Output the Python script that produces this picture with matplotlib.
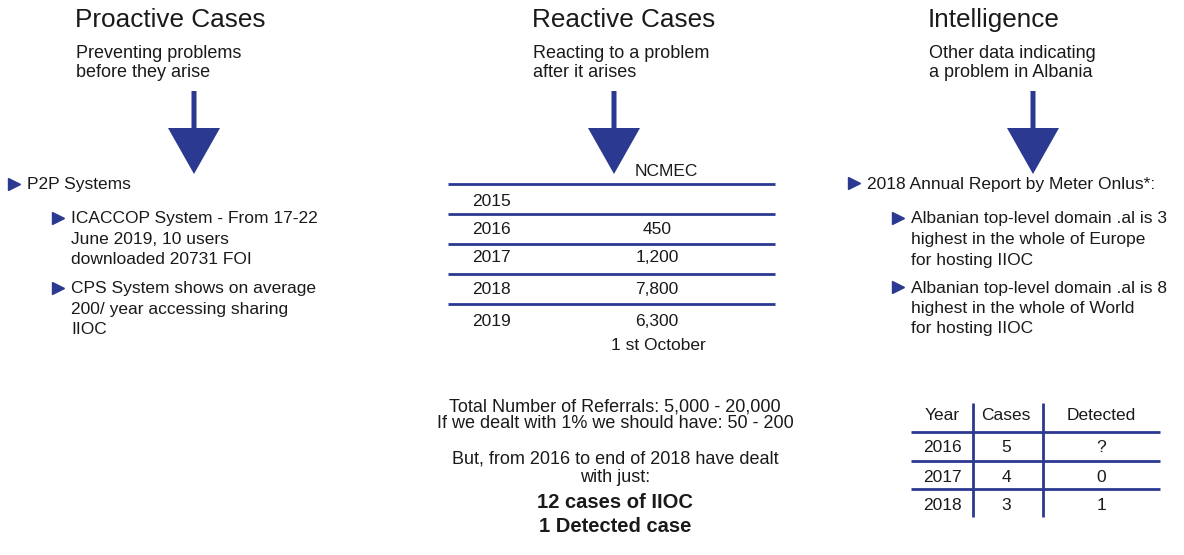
import matplotlib.pyplot as plt
from matplotlib.patches import Polygon

plt.rcParams['font.family'] = ['Liberation Sans', 'DejaVu Sans']

NAVY = '#2b3990'
INK = '#1a1a1a'

# NCMEC referrals table
ncmec_years = ['2015', '2016', '2017', '2018', '2019']
ncmec_values = ['', '450', '1,200', '7,800', '6,300']

# cases table
case_cols = ['Year', 'Cases', 'Detected']
case_years = ['2016', '2017', '2018']
case_counts = ['5', '4', '3']
case_detected = ['?', '0', '1']

fig = plt.figure(figsize=(11.84, 5.55), dpi=100)
ax = fig.add_axes([0, 0, 1, 1])
ax.set_xlim(0, 1184)
ax.set_ylim(555, 0)
ax.axis('off')


def arrow(xc):
    ax.add_patch(Polygon([[xc - 2.5, 91], [xc + 2.5, 91], [xc + 2.5, 128], [xc + 26, 128],
                          [xc, 174], [xc - 26, 128], [xc - 2.5, 128]],
                         closed=True, color=NAVY, lw=0))


def bullet(x, y):
    ax.plot([x], [y], marker='>', ms=9, color=NAVY, mec=NAVY, ls='none')


def lines(x, y0, rows, size=12.5, step=20.5, **kw):
    for i, r in enumerate(rows):
        ax.text(x, y0 + i * step, r, fontsize=size, color=INK, va='center', **kw)


# column headers
heads = [(75, 'Proactive Cases', ['Preventing problems', 'before they arise'], 194),
         (532, 'Reactive Cases', ['Reacting to a problem', 'after it arises'], 614),
         (928, 'Intelligence', ['Other data indicating', 'a problem in Albania'], 1033)]
for x, t, sub, ax_x in heads:
    ax.text(x, 20, t, fontsize=18.8, color=INK, va='center')
    lines(x + 1, 53, sub, size=13, step=19.5)
    arrow(ax_x)

# left column
bullet(14, 184)
lines(27, 185, ['P2P Systems'])
bullet(58, 218)
lines(71, 219, ['ICACCOP System - From 17-22', 'June 2019, 10 users', 'downloaded 20731 FOI'])
bullet(58, 288)
lines(71, 289, ['CPS System shows on average', '200/ year accessing sharing', 'IIOC'])

# middle table
ax.text(666, 171, 'NCMEC', fontsize=12.5, color=INK, va='center', ha='center')
row_y = [184, 214, 244, 274, 304]
for yl in row_y:
    ax.plot([448, 775], [yl, yl], color=NAVY, lw=2, solid_capstyle='butt')
row_mid = [202, 230, 258, 290, 321]
for yc, yr, v in zip(row_mid, ncmec_years, ncmec_values):
    ax.text(472, yc, yr, fontsize=12.5, color=INK, va='center')
    ax.text(657, yc, v, fontsize=12.5, color=INK, va='center', ha='center')
ax.text(658, 346, '1 st October', fontsize=12.5, color=INK, va='center', ha='center')

for y, t in [(407, 'Total Number of Referrals: 5,000 - 20,000'),
             (424, 'If we dealt with 1% we should have: 50 - 200'),
             (459, 'But, from 2016 to end of 2018 have dealt'),
             (478, 'with just:')]:
    ax.text(615, y, t, fontsize=13, color=INK, va='center', ha='center')
ax.text(615, 503, '12 cases of IIOC', fontsize=14.5, color=INK, va='center', ha='center', fontweight='bold')
ax.text(615, 526, '1 Detected case', fontsize=14.5, color=INK, va='center', ha='center', fontweight='bold')

# right column
bullet(854, 183)
lines(867, 184, ['2018 Annual Report by Meter Onlus*:'])
bullet(898, 218)
lines(911, 219, ['Albanian top-level domain .al is 3', 'highest in the whole of Europe', 'for hosting IIOC'])
bullet(898, 287)
lines(911, 288, ['Albanian top-level domain .al is 8', 'highest in the whole of World', 'for hosting IIOC'])

col_x = [942, 1006, 1101]
for cx, c in zip(col_x, case_cols):
    ax.text(cx, 415, c, fontsize=12.5, color=INK, va='center', ha='center')
for yl in [432, 461, 489]:
    ax.plot([911, 1160], [yl, yl], color=NAVY, lw=2, solid_capstyle='butt')
for xl in [973, 1043]:
    ax.plot([xl, xl], [403, 517], color=NAVY, lw=2, solid_capstyle='butt')
for i, row in enumerate(zip(case_years, case_counts, case_detected)):
    for cx, v in zip(col_x, row):
        ax.text(cx, 448 + i * 29, v, fontsize=12.5, color=INK, va='center', ha='center')

fig.savefig('out.png', dpi=100)
